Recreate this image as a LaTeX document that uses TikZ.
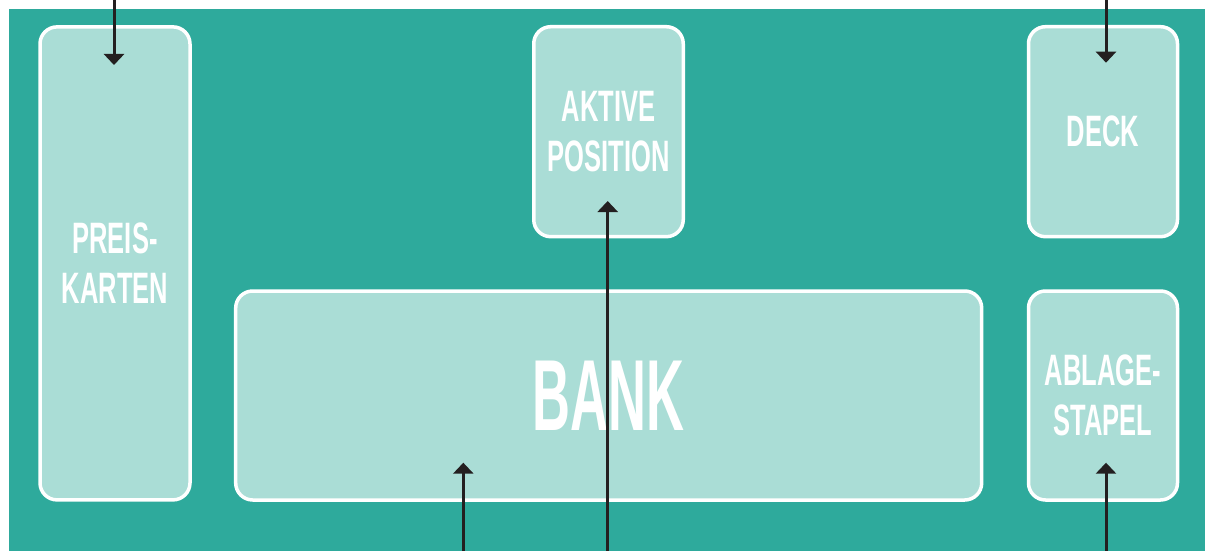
\documentclass[tikz,border=0pt]{standalone}
\usepackage{fontspec}
\usetikzlibrary{arrows.meta}
\newfontfamily\condfont[FakeStretch=0.58]{Liberation Sans}
\newfontfamily\bankfont[FakeStretch=0.52]{Liberation Sans}
\definecolor{teal1}{HTML}{2EAA9C}
\definecolor{boxfill}{HTML}{AADDD6}
\definecolor{arrowcol}{HTML}{231F20}
\tikzset{
  card/.style={draw=white, line width=3.5pt, fill=boxfill, rounded corners=17pt,
    inner sep=0pt, align=center, text=white,
    font=\condfont\bfseries\fontsize{44}{50}\selectfont},
  banklabel/.style={font=\bankfont\bfseries\fontsize{101}{110}\selectfont},
  arr/.style={draw=arrowcol, line width=3pt, -{Triangle[width=20pt,length=11pt]}}
}
\begin{document}
\begin{tikzpicture}[x=1pt,y=-1pt]
\useasboundingbox (0,0) rectangle (1205,551);
\fill[white] (0,0) rectangle (1205,551);
\fill[teal1] (9,9) rectangle (1205,551);
% cards
\node[card, minimum width=150pt, minimum height=473pt] (preis) at (115,263.4) {PREIS-\\KARTEN};
\node[card, minimum width=149.5pt, minimum height=210pt] (aktiv) at (608.5,131.7) {AKTIVE\\POSITION};
\node[card, minimum width=149pt, minimum height=210pt] (deck) at (1103,131.7) {DECK};
\node[card, banklabel, minimum width=746pt, minimum height=209pt] (bank) at (608.7,395.5) {BANK};
\node[card, minimum width=149pt, minimum height=209pt] (ablage) at (1103,395.5) {ABLAGE-\\STAPEL};
% connector ends
\coordinate (preisin) at (114,0);
\coordinate (preistip) at (114,65);
\coordinate (deckin) at (1106,0);
\coordinate (decktip) at (1106,62.7);
\coordinate (aktivin) at (607.7,551);
\coordinate (aktivtip) at (607.7,201);
\coordinate (bankin) at (463.3,551);
\coordinate (banktip) at (463.3,462.7);
\coordinate (ablagein) at (1106,551);
\coordinate (ablagetip) at (1106,462.7);
% arrows
\draw[arr] (preisin) -- (preistip);
\draw[arr] (deckin) -- (decktip);
\draw[arr] (aktivin) -- (aktivtip);
\draw[arr] (bankin) -- (banktip);
\draw[arr] (ablagein) -- (ablagetip);
\end{tikzpicture}
\end{document}
